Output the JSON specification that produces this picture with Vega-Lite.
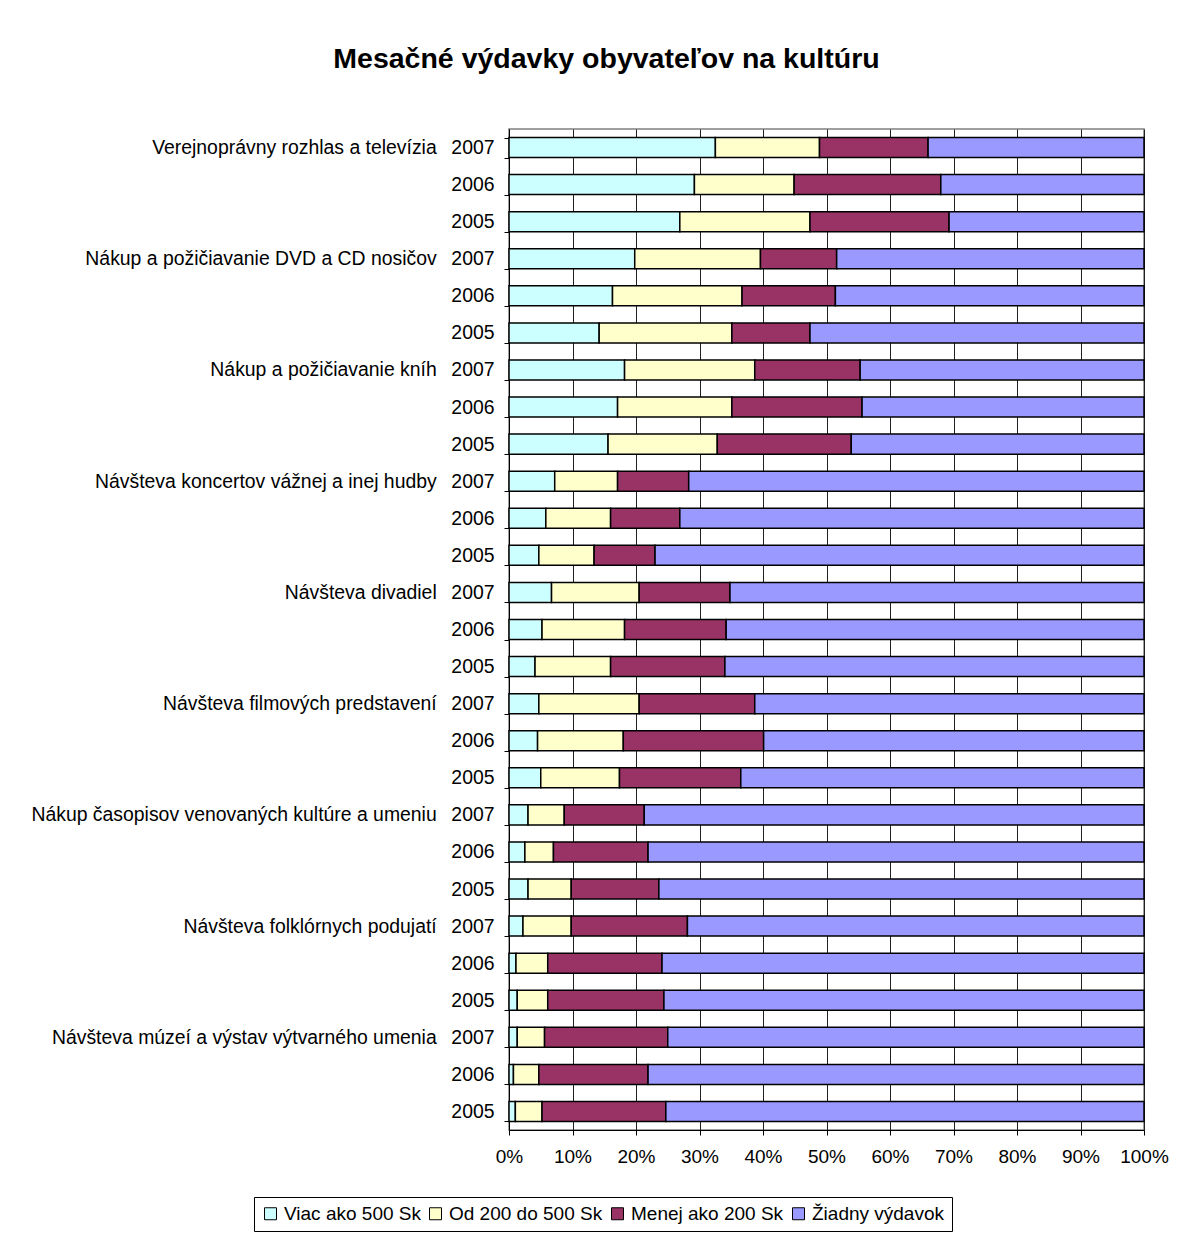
{
  "$schema": "https://vega.github.io/schema/vega-lite/v6.json",
  "width": 635,
  "height": 1001,
  "autosize": "none",
  "padding": {"left": 509, "top": 129, "right": 44, "bottom": 106},
  "background": "white",
  "title": {
    "text": "Mesačné výdavky obyvateľov na kultúru",
    "font": "Liberation Sans",
    "fontSize": 28.5,
    "fontWeight": "bold",
    "color": "black",
    "anchor": "middle",
    "frame": "group",
    "dx": -220,
    "offset": 46
  },
  "data": {
    "values": [
      {"a": "Verejnoprávny rozhlas a televízia", "r": "2007", "Viac ako 500 Sk": 32.5, "Od 200 do 500 Sk": 16.4, "Menej ako 200 Sk": 17.1, "Žiadny výdavok": 34.0},
      {"a": "Verejnoprávny rozhlas a televízia", "r": "2006", "Viac ako 500 Sk": 29.2, "Od 200 do 500 Sk": 15.7, "Menej ako 200 Sk": 23.1, "Žiadny výdavok": 32.0},
      {"a": "Verejnoprávny rozhlas a televízia", "r": "2005", "Viac ako 500 Sk": 26.9, "Od 200 do 500 Sk": 20.5, "Menej ako 200 Sk": 21.9, "Žiadny výdavok": 30.7},
      {"a": "Nákup a požičiavanie DVD a CD nosičov", "r": "2007", "Viac ako 500 Sk": 19.8, "Od 200 do 500 Sk": 19.8, "Menej ako 200 Sk": 12.0, "Žiadny výdavok": 48.4},
      {"a": "Nákup a požičiavanie DVD a CD nosičov", "r": "2006", "Viac ako 500 Sk": 16.3, "Od 200 do 500 Sk": 20.4, "Menej ako 200 Sk": 14.7, "Žiadny výdavok": 48.6},
      {"a": "Nákup a požičiavanie DVD a CD nosičov", "r": "2005", "Viac ako 500 Sk": 14.2, "Od 200 do 500 Sk": 20.9, "Menej ako 200 Sk": 12.3, "Žiadny výdavok": 52.6},
      {"a": "Nákup a požičiavanie kníh", "r": "2007", "Viac ako 500 Sk": 18.2, "Od 200 do 500 Sk": 20.5, "Menej ako 200 Sk": 16.6, "Žiadny výdavok": 44.7},
      {"a": "Nákup a požičiavanie kníh", "r": "2006", "Viac ako 500 Sk": 17.1, "Od 200 do 500 Sk": 18.0, "Menej ako 200 Sk": 20.5, "Žiadny výdavok": 44.4},
      {"a": "Nákup a požičiavanie kníh", "r": "2005", "Viac ako 500 Sk": 15.6, "Od 200 do 500 Sk": 17.2, "Menej ako 200 Sk": 21.1, "Žiadny výdavok": 46.1},
      {"a": "Návšteva koncertov vážnej a inej hudby", "r": "2007", "Viac ako 500 Sk": 7.2, "Od 200 do 500 Sk": 9.9, "Menej ako 200 Sk": 11.2, "Žiadny výdavok": 71.7},
      {"a": "Návšteva koncertov vážnej a inej hudby", "r": "2006", "Viac ako 500 Sk": 5.8, "Od 200 do 500 Sk": 10.2, "Menej ako 200 Sk": 10.9, "Žiadny výdavok": 73.1},
      {"a": "Návšteva koncertov vážnej a inej hudby", "r": "2005", "Viac ako 500 Sk": 4.7, "Od 200 do 500 Sk": 8.7, "Menej ako 200 Sk": 9.6, "Žiadny výdavok": 77.0},
      {"a": "Návšteva divadiel", "r": "2007", "Viac ako 500 Sk": 6.7, "Od 200 do 500 Sk": 13.8, "Menej ako 200 Sk": 14.3, "Žiadny výdavok": 65.2},
      {"a": "Návšteva divadiel", "r": "2006", "Viac ako 500 Sk": 5.2, "Od 200 do 500 Sk": 13.0, "Menej ako 200 Sk": 16.0, "Žiadny výdavok": 65.8},
      {"a": "Návšteva divadiel", "r": "2005", "Viac ako 500 Sk": 4.1, "Od 200 do 500 Sk": 11.9, "Menej ako 200 Sk": 18.0, "Žiadny výdavok": 66.0},
      {"a": "Návšteva filmových predstavení", "r": "2007", "Viac ako 500 Sk": 4.7, "Od 200 do 500 Sk": 15.8, "Menej ako 200 Sk": 18.2, "Žiadny výdavok": 61.3},
      {"a": "Návšteva filmových predstavení", "r": "2006", "Viac ako 500 Sk": 4.5, "Od 200 do 500 Sk": 13.5, "Menej ako 200 Sk": 22.1, "Žiadny výdavok": 59.9},
      {"a": "Návšteva filmových predstavení", "r": "2005", "Viac ako 500 Sk": 5.0, "Od 200 do 500 Sk": 12.4, "Menej ako 200 Sk": 19.1, "Žiadny výdavok": 63.5},
      {"a": "Nákup časopisov venovaných kultúre a umeniu", "r": "2007", "Viac ako 500 Sk": 3.0, "Od 200 do 500 Sk": 5.7, "Menej ako 200 Sk": 12.6, "Žiadny výdavok": 78.7},
      {"a": "Nákup časopisov venovaných kultúre a umeniu", "r": "2006", "Viac ako 500 Sk": 2.5, "Od 200 do 500 Sk": 4.5, "Menej ako 200 Sk": 14.9, "Žiadny výdavok": 78.1},
      {"a": "Nákup časopisov venovaných kultúre a umeniu", "r": "2005", "Viac ako 500 Sk": 3.0, "Od 200 do 500 Sk": 6.8, "Menej ako 200 Sk": 13.8, "Žiadny výdavok": 76.4},
      {"a": "Návšteva folklórnych podujatí", "r": "2007", "Viac ako 500 Sk": 2.2, "Od 200 do 500 Sk": 7.6, "Menej ako 200 Sk": 18.3, "Žiadny výdavok": 71.9},
      {"a": "Návšteva folklórnych podujatí", "r": "2006", "Viac ako 500 Sk": 1.1, "Od 200 do 500 Sk": 5.0, "Menej ako 200 Sk": 18.0, "Žiadny výdavok": 75.9},
      {"a": "Návšteva folklórnych podujatí", "r": "2005", "Viac ako 500 Sk": 1.3, "Od 200 do 500 Sk": 4.8, "Menej ako 200 Sk": 18.3, "Žiadny výdavok": 75.6},
      {"a": "Návšteva múzeí a výstav výtvarného umenia", "r": "2007", "Viac ako 500 Sk": 1.3, "Od 200 do 500 Sk": 4.3, "Menej ako 200 Sk": 19.4, "Žiadny výdavok": 75.0},
      {"a": "Návšteva múzeí a výstav výtvarného umenia", "r": "2006", "Viac ako 500 Sk": 0.7, "Od 200 do 500 Sk": 4.0, "Menej ako 200 Sk": 17.2, "Žiadny výdavok": 78.1},
      {"a": "Návšteva múzeí a výstav výtvarného umenia", "r": "2005", "Viac ako 500 Sk": 1.0, "Od 200 do 500 Sk": 4.2, "Menej ako 200 Sk": 19.5, "Žiadny výdavok": 75.3}
    ]
  },
  "transform": [
    {"fold": ["Viac ako 500 Sk", "Od 200 do 500 Sk", "Menej ako 200 Sk", "Žiadny výdavok"], "as": ["kat", "hodnota"]},
    {"calculate": "datum.a + '|' + datum.r", "as": "riadok"},
    {"calculate": "indexof(['Viac ako 500 Sk', 'Od 200 do 500 Sk', 'Menej ako 200 Sk', 'Žiadny výdavok'], datum.kat)", "as": "poradie"}
  ],
  "mark": {"type": "bar", "stroke": "black", "strokeWidth": 1.5},
  "encoding": {
    "y": {
      "field": "riadok",
      "type": "nominal",
      "sort": null,
      "scale": {"paddingInner": 0.46, "paddingOuter": 0.23},
      "axis": {
        "title": null,
        "labelExpr": "split(datum.value, '|')[1] == '2007' ? split(datum.value, '|')[0] + '\u00a0\u00a0\u2009' + split(datum.value, '|')[1] : split(datum.value, '|')[1]",
        "labelFont": "Liberation Sans",
        "labelFontSize": 19.4,
        "labelColor": "black",
        "labelPadding": 10,
        "labelLimit": 600,
        "tickBand": "extent",
        "tickSize": 5,
        "tickColor": "black",
        "domainColor": "black",
        "domainWidth": 1,
        "grid": false
      }
    },
    "x": {
      "field": "hodnota",
      "type": "quantitative",
      "stack": "normalize",
      "scale": {"domain": [0, 1]},
      "axis": {
        "title": null,
        "format": "%",
        "values": [0, 0.1, 0.2, 0.3, 0.4, 0.5, 0.6, 0.7, 0.8, 0.9, 1],
        "labelFont": "Liberation Sans",
        "labelFontSize": 19,
        "labelColor": "black",
        "labelPadding": 12,
        "labelFlush": false,
        "tickSize": 5,
        "tickColor": "black",
        "domainColor": "black",
        "grid": true,
        "gridColor": "#202020",
        "gridWidth": 1
      }
    },
    "color": {
      "field": "kat",
      "type": "nominal",
      "scale": {
        "domain": ["Viac ako 500 Sk", "Od 200 do 500 Sk", "Menej ako 200 Sk", "Žiadny výdavok"],
        "range": ["#CCFFFF", "#FFFFCC", "#993366", "#9999FF"]
      },
      "legend": {
        "title": null,
        "orient": "none",
        "direction": "horizontal",
        "legendX": -255,
        "legendY": 1068,
        "strokeColor": "black",
        "padding": 7,
        "symbolType": "square",
        "symbolSize": 144,
        "symbolStrokeColor": "black",
        "symbolStrokeWidth": 1,
        "labelFont": "Liberation Sans",
        "labelFontSize": 19,
        "labelColor": "black",
        "labelOffset": 4,
        "columnPadding": 5,
        "labelLimit": 300
      }
    },
    "order": {"field": "poradie", "type": "quantitative"}
  },
  "config": {
    "view": {"stroke": "#808080", "strokeWidth": 1.5}
  }
}
